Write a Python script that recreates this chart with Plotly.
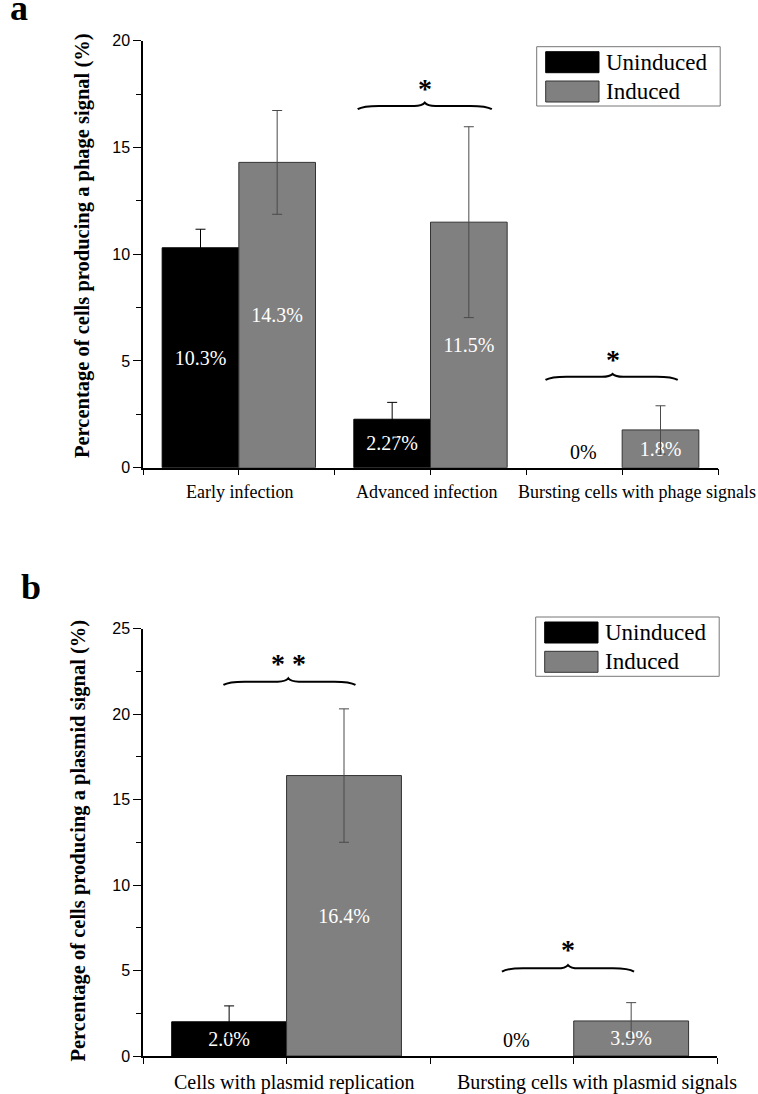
import plotly.graph_objects as go

W, H = 758, 1094

# ---------------- data: panel a ----------------
cats_a = ["Early infection", "Advanced infection", "Bursting cells with phage signals"]
uninduced_a = [10.3, 2.27, 0.0]
induced_a = [14.3, 11.5, 1.77]
uninduced_a_err = [0.87, 0.79, 0.0]
induced_a_err = [2.43, 4.47, 1.13]
uninduced_a_lbl = ["10.3%", "2.27%", "0%"]
induced_a_lbl = ["14.3%", "11.5%", "1.8%"]

# ---------------- data: panel b ----------------
cats_b = ["Cells with plasmid replication", "Bursting cells with plasmid signals"]
uninduced_b = [2.0, 0.0]
induced_b = [16.4, 2.05]
uninduced_b_err = [0.93, 0.0]
induced_b_err = [3.9, 1.07]
uninduced_b_lbl = ["2.0%", "0%"]
induced_b_lbl = ["16.4%", "3.9%"]

# significance brackets: (x_left, x_right, x_center, y_end, y_flat, y_peak, star_y, stars)
sig_a = [
    (0.62, 1.32, 0.97, 16.79, 16.94, 17.10, 17.75, "*"),
    (1.60, 2.29, 1.95, 4.11, 4.26, 4.39, 5.07, "*"),
]
sig_b = [
    (-0.22, 0.24, 0.006, 21.70, 21.89, 22.09, 22.95, "* *"),
    (0.75, 1.21, 0.98, 4.93, 5.13, 5.32, 6.25, "*"),
]

# horizontal offsets (px) of the category labels, as placed in the original
LABEL_SHIFT_A = [0.5, -4.5, 15]
LABEL_SHIFT_B = [8, 23]

SERIF = "Liberation Serif, Times New Roman, serif"
SANS = "Liberation Sans, Arial, sans-serif"
BLACK = "#000000"
GRAY = "#808080"
BARGAP = 0.2


def px2x(px):
    return px / W


def px2y(py):
    return 1 - py / H


fig = go.Figure()


def add_bars(xa, ya, vals_u, err_u, lbl_u, vals_i, err_i, lbl_i):
    n = len(vals_u)
    slot = (1 - BARGAP) / 2
    for k, (vals, err, lbl, color, lcol, ecol) in enumerate([
        (vals_u, err_u, lbl_u, BLACK, BLACK, "#000000"),
        (vals_i, err_i, lbl_i, GRAY, "#333333", "#4a4a4a"),
    ]):
        keep = [i for i in range(n) if vals[i] > 0]
        fig.add_trace(go.Bar(
            x=keep, y=[vals[i] for i in keep], xaxis=xa, yaxis=ya,
            offsetgroup=str(k),
            marker=dict(color=color, line=dict(color=lcol, width=1)),
            error_y=dict(type="data", array=[err[i] for i in keep],
                         visible=True, color=ecol, thickness=1, width=5),
            text=[lbl[i] for i in keep],
            textposition="inside",
            insidetextanchor="middle",
            textangle=0,
            constraintext="none",
            textfont=dict(family=SERIF, size=20, color="white"),
            insidetextfont=dict(family=SERIF, size=20, color="white"),
            cliponaxis=False,
            showlegend=False,
        ))
        # labels of zero-height bars sit just above the axis
        for i in range(n):
            if vals[i] <= 0:
                fig.add_annotation(
                    x=i + (k - 0.5) * slot, y=0, xref=xa, yref=ya, text=lbl[i],
                    showarrow=False, xanchor="center", yanchor="bottom", yshift=3,
                    font=dict(family=SERIF, size=20, color="black"))


add_bars("x", "y", uninduced_a, uninduced_a_err, uninduced_a_lbl,
         induced_a, induced_a_err, induced_a_lbl)
add_bars("x2", "y2", uninduced_b, uninduced_b_err, uninduced_b_lbl,
         induced_b, induced_b_err, induced_b_lbl)

xaxis_common = dict(
    showline=True, linecolor="black", linewidth=1.5, showgrid=False, zeroline=False,
    ticks="outside", ticklen=6, tickcolor="black", tickwidth=1.2, tickangle=0,
    automargin=False, showticklabels=False,
)
yaxis_common = dict(
    showline=True, linecolor="black", linewidth=1.5, showgrid=False, zeroline=False,
    ticks="outside", ticklen=8, tickcolor="black", tickwidth=1.2, dtick=5, tick0=0,
    tickfont=dict(family=SANS, size=16, color="black"), automargin=False,
)

fig.update_layout(
    width=W, height=H,
    margin=dict(l=0, r=0, t=0, b=0),
    paper_bgcolor="white", plot_bgcolor="white",
    barmode="group", bargap=BARGAP, bargroupgap=0,
    xaxis=dict(domain=[px2x(143), px2x(718)], range=[-0.5, 2.5], tickmode="array",
               tickvals=list(range(len(cats_a))), ticktext=cats_a,
               minor=dict(tickvals=[-0.5, 0.5, 1.5, 2.5], ticks="outside", ticklen=6,
                          tickcolor="black", showgrid=False),
               anchor="y", **xaxis_common),
    yaxis=dict(domain=[px2y(467.7), px2y(40.7)], range=[0, 20], anchor="x",
               minor=dict(dtick=2.5, ticks="outside", ticklen=5, tickcolor="black",
                          showgrid=False),
               **yaxis_common),
    xaxis2=dict(domain=[px2x(143), px2x(717.3)], range=[-0.5, 1.5], tickmode="array",
                tickvals=list(range(len(cats_b))), ticktext=cats_b,
                minor=dict(tickvals=[-0.5, 0.5, 1.5], ticks="outside", ticklen=6,
                           tickcolor="black", showgrid=False),
                anchor="y2", **xaxis_common),
    yaxis2=dict(domain=[px2y(1056), px2y(628.5)], range=[0, 25], anchor="x2",
                minor=dict(dtick=2.5, ticks="outside", ticklen=5, tickcolor="black",
                           showgrid=False),
                **yaxis_common),
)

# category labels under the x axes
for xa, ya, cats, shifts, fs, dy in [("x", "y", cats_a, LABEL_SHIFT_A, 18, -24),
                                     ("x2", "y2", cats_b, LABEL_SHIFT_B, 20, -26)]:
    for i, c in enumerate(cats):
        fig.add_annotation(x=i, y=0, xref=xa, yref=ya, text=c, showarrow=False,
                           xanchor="center", yanchor="middle", xshift=shifts[i],
                           yshift=dy, font=dict(family=SERIF, size=fs, color="black"))


def brace_path(xl, xr, xc, ye, yf, yp):
    w = xr - xl
    return (f"M {xl},{ye} Q {xl + 0.04 * w},{yf} {xl + 0.16 * w},{yf} "
            f"L {xc - 0.08 * w},{yf} Q {xc - 0.02 * w},{yf} {xc},{yp} "
            f"Q {xc + 0.02 * w},{yf} {xc + 0.08 * w},{yf} "
            f"L {xr - 0.16 * w},{yf} Q {xr - 0.04 * w},{yf} {xr},{ye}")


for xr_, yr_, sigs in [("x", "y", sig_a), ("x2", "y2", sig_b)]:
    for (xl, xr, xc, ye, yf, yp, sy, st) in sigs:
        fig.add_shape(type="path", xref=xr_, yref=yr_,
                      path=brace_path(xl, xr, xc, ye, yf, yp),
                      line=dict(color="black", width=2))
        fig.add_annotation(x=xc, y=sy, xref=xr_, yref=yr_, text=f"<b>{st}</b>",
                           showarrow=False, xanchor="center", yanchor="middle",
                           font=dict(family=SERIF, size=28, color="black"))


def legend_box(x0, y0):
    fig.add_shape(type="rect", xref="paper", yref="paper",
                  x0=px2x(x0), x1=px2x(x0 + 183.5), y0=px2y(y0), y1=px2y(y0 + 59.3),
                  line=dict(color="#777777", width=1), fillcolor="white")
    entries = [("Uninduced", BLACK, BLACK, 5.0), ("Induced", GRAY, "#333333", 34.3)]
    for name, fc, lc, dy in entries:
        fig.add_shape(type="rect", xref="paper", yref="paper",
                      x0=px2x(x0 + 9), x1=px2x(x0 + 62.3),
                      y0=px2y(y0 + dy), y1=px2y(y0 + dy + 21),
                      line=dict(color=lc, width=1), fillcolor=fc)
        fig.add_annotation(x=px2x(x0 + 67.5), y=px2y(y0 + dy + 10.5), xref="paper",
                           yref="paper", text=name, showarrow=False,
                           xanchor="left", yanchor="middle",
                           font=dict(family=SERIF, size=23, color="black"))


legend_box(536.7, 46.7)
legend_box(535.7, 617)

# axis titles
for (cx, cy, txt) in [(83, 246, "Percentage of cells producing a phage signal (%)"),
                      (77.5, 841, "Percentage of cells producing a plasmid signal (%)")]:
    fig.add_annotation(x=px2x(cx), y=px2y(cy), xref="paper", yref="paper",
                       text=f"<b>{txt}</b>", textangle=-90, showarrow=False,
                       xanchor="center", yanchor="middle",
                       font=dict(family=SERIF, size=20.5, color="black"))

# panel labels
for (cx, cy, txt) in [(18.5, 8, "a"), (30.5, 587, "b")]:
    fig.add_annotation(x=px2x(cx), y=px2y(cy), xref="paper", yref="paper",
                       text=f"<b>{txt}</b>", showarrow=False,
                       xanchor="center", yanchor="middle",
                       font=dict(family=SERIF, size=36, color="black"))

fig.write_html("out.html")
